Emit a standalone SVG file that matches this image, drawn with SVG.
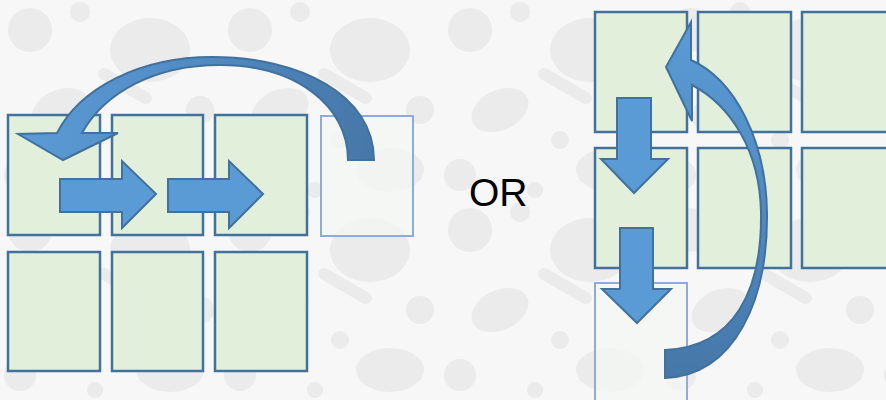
<svg xmlns="http://www.w3.org/2000/svg" width="886" height="400" viewBox="0 0 886 400">
  <defs>
    <style>
      .cell { fill: #e2efda; stroke: #41719c; stroke-width: 2.5; }
      .ghost { fill: #f3f7f1; fill-opacity: 0.75; stroke: #8faadc; stroke-width: 2; }
      .block { fill: #5b9bd5; stroke: #41719c; stroke-width: 2; stroke-linejoin: miter; }
      .curve { stroke: #41719c; stroke-width: 2; stroke-linejoin: miter; }
      .label { font-family: "Liberation Sans", Arial, sans-serif; font-size: 39px; fill: #000; }
      .blob { fill: #ebebeb; }
    </style>
    <!-- soft grey blob texture for the backdrop -->
    <pattern id="texture" x="0" y="0" width="220" height="200" patternUnits="userSpaceOnUse">
      <rect width="220" height="200" fill="#f7f7f7"/>
      <circle class="blob" cx="30" cy="30" r="22"/>
      <circle class="blob" cx="80" cy="12" r="10"/>
      <ellipse class="blob" cx="150" cy="50" rx="40" ry="32"/>
      <circle class="blob" cx="200" cy="110" r="14"/>
      <ellipse class="blob" cx="60" cy="110" rx="30" ry="20" transform="rotate(-25 60 110)"/>
      <circle class="blob" cx="120" cy="140" r="9"/>
      <ellipse class="blob" cx="170" cy="170" rx="34" ry="22"/>
      <circle class="blob" cx="20" cy="175" r="16"/>
      <circle class="blob" cx="95" cy="190" r="8"/>
      <rect class="blob" x="95" y="80" width="60" height="12" rx="6" transform="rotate(30 125 86)"/>
    </pattern>
    <linearGradient id="curveShade" x1="0" y1="0" x2="1" y2="0">
      <stop offset="0" stop-color="#5b9bd5"/>
      <stop offset="0.55" stop-color="#5089c2"/>
      <stop offset="1" stop-color="#4677a8"/>
    </linearGradient>
    <linearGradient id="curveShadeV" x1="0" y1="0" x2="0" y2="1">
      <stop offset="0" stop-color="#5b9bd5"/>
      <stop offset="0.55" stop-color="#5089c2"/>
      <stop offset="1" stop-color="#4677a8"/>
    </linearGradient>
  </defs>

  <rect width="886" height="400" fill="url(#texture)"/>

  <!-- left grid: row-wise shifting -->
  <g id="left-r1c1"><rect class="cell" x="8" y="115" width="92" height="120"/></g>
  <g id="left-r1c2"><rect class="cell" x="112" y="115" width="91" height="120"/></g>
  <g id="left-r1c3"><rect class="cell" x="215" y="115" width="92" height="120"/></g>
  <g id="left-r2c1"><rect class="cell" x="8" y="252" width="92" height="119"/></g>
  <g id="left-r2c2"><rect class="cell" x="112" y="252" width="91" height="119"/></g>
  <g id="left-r2c3"><rect class="cell" x="215" y="252" width="92" height="119"/></g>
  <g id="left-ghost"><rect class="ghost" x="321" y="116" width="92" height="120"/></g>

  <!-- right grid: column-wise shifting -->
  <g id="right-r1c1"><rect class="cell" x="595" y="12" width="92" height="120"/></g>
  <g id="right-r1c2"><rect class="cell" x="698" y="12" width="93" height="120"/></g>
  <g id="right-r1c3"><rect class="cell" x="802" y="12" width="92" height="120"/></g>
  <g id="right-r2c1"><rect class="cell" x="595" y="148" width="92" height="120"/></g>
  <g id="right-r2c2"><rect class="cell" x="698" y="148" width="93" height="120"/></g>
  <g id="right-r2c3"><rect class="cell" x="802" y="148" width="92" height="120"/></g>
  <g id="right-ghost"><rect class="ghost" x="595" y="283" width="92" height="130"/></g>

  <g id="or-label"><text class="label" x="469" y="206">OR</text></g>

  <g id="connectors">
    <!-- left: two right-pointing block arrows -->
    <path class="block" d="M60,179 H122 V161 L156,194 L122,228 V212 H60 Z"/>
    <path class="block" d="M168,179 H229 V161 L263,194 L229,228 V212 H168 Z"/>

    <!-- left: curved arrow wrapping back to the first cell -->
    <path class="curve" fill="url(#curveShade)"
          d="M374,160 C374,95 300,57 212,57 C140,57 80,88 57,133 L18,134 L63,160 L118,133 L82,133 C105,92 155,65 220,65 C295,65 348,105 348,160 Z"/>

    <!-- right: two down-pointing block arrows -->
    <path class="block" d="M617,98 H651 V159 H668 L634,193 L601,159 H617 Z"/>
    <path class="block" d="M620,228 H653 V289 H671 L637,323 L602,289 H620 Z"/>

    <!-- right: curved arrow wrapping back to the top cell -->
    <path class="curve" fill="url(#curveShadeV)"
          d="M665,378 C735,375 768,300 767,213 C766,140 735,80 691,60 L691,22 L666,67 L692,121 L692,85 C730,105 760,150 761,213 C762,290 735,347 665,350 Z"/>
  </g>
</svg>
